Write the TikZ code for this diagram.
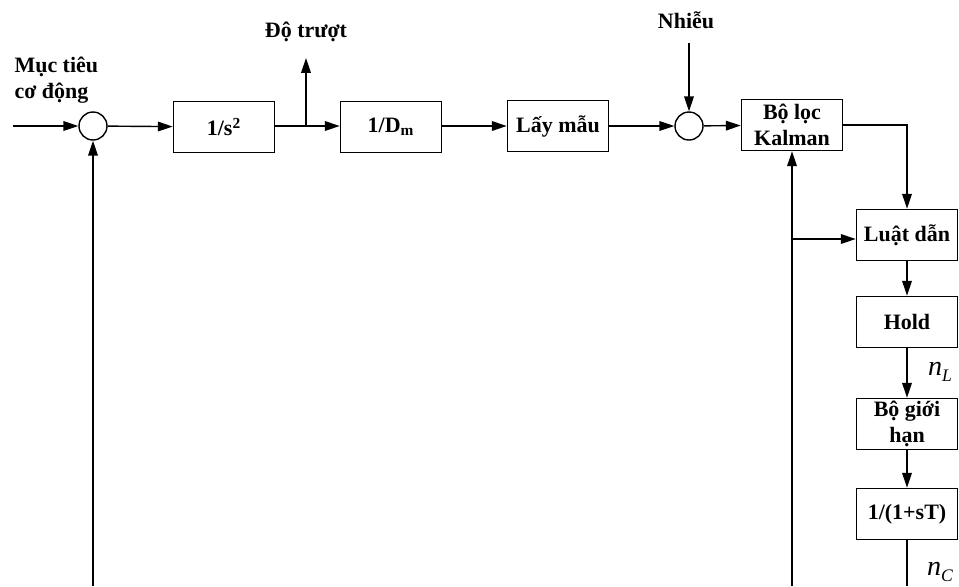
\documentclass[tikz,border=0pt]{standalone}
\usepackage{fontspec}
\setmainfont{Liberation Serif}
\usetikzlibrary{arrows.meta,positioning}

\tikzset{
  khoi/.style={draw, line width=0.9pt, minimum width=2.02cm, minimum height=1.02cm,
    inner sep=1pt, align=center, font=\bfseries\fontsize{12.5}{15}\selectfont},
  tong/.style={draw, circle, line width=0.8pt, minimum size=0.56cm, inner sep=0pt},
  mui/.style={-{Triangle[length=8.5pt,width=5.5pt]}},
  nhan/.style={font=\bfseries\fontsize{12.5}{15}\selectfont, align=left},
  kyhieu/.style={font=\fontsize{16}{16}\selectfont, inner sep=0pt},
}

\begin{document}
\begin{tikzpicture}[x=0.02cm, y=-0.02cm, line width=0.8pt]
    \useasboundingbox (0,0) rectangle (959,586);

    % nhánh thuận
    \node[tong] (s1) at (93,126) {};
    \node[khoi] (tp) at (224,127) {1/s\textsuperscript{2}};
    \node[khoi] (dm) at (391,127) {1/D\textsubscript{m}};
    \node[khoi] (lm) at (558,126) {Lấy mẫu};
    \node[tong] (s2) at (689,126) {};
    \node[khoi] (kal) at (792,125) {Bộ lọc\\Kalman};

    % nhánh dọc
    \node[khoi] (luat) at (907,235) {Luật dẫn};
    \node[khoi] (hold) at (907,322) {Hold};
    \node[khoi] (gh) at (907,424) {Bộ giới\\hạn};
    \node[khoi] (qt) at (907,514) {1/(1+sT)};

    % nhãn
    \node[nhan, anchor=west] (muctieu) at (8,80) {Mục tiêu\\cơ động};
    \node[nhan] (dotruot) at (306,32) {Độ trượt};
    \node[nhan] (nhieu) at (686,20) {Nhiễu};
    \node[kyhieu] (nl) at (940,372) {\textit{n}\raisebox{-0.5ex}{\fontsize{10}{10}\selectfont\textit{L}}};
    \node[kyhieu] (nc) at (940,572) {\textit{n}\raisebox{-0.5ex}{\fontsize{10}{10}\selectfont\textit{C}}};

    % các điểm
    \coordinate (vao) at (13,126);
    \coordinate (re) at (306,126);
    \coordinate (dt) at (306,58);
    \coordinate (nv) at (689,43);
    \coordinate (nh) at (792,239);
    \coordinate (d1) at (93,586);
    \coordinate (d2) at (792,586);
    \coordinate (ra) at (907,586);

    % đường nối
    \draw[mui] (vao) -- (s1);
    \draw[mui] (s1) -- (tp);
    \draw (tp.east |- re) -- (re);
    \draw[mui] (re) -- (dt);
    \draw[mui] (re) -- (re -| dm.west);
    \draw[mui] (dm.east |- lm) -- (lm);
    \draw[mui] (lm) -- (s2);
    \draw[mui] (nv) -- (s2);
    \draw[mui] (s2) -- (kal);
    \draw[mui] (kal.east) -| (luat.north);
    \draw[mui] (d2) -- (kal.south);
    \draw[mui] (nh) -- (nh -| luat.west);
    \foreach \a/\b in {luat/hold, hold/gh, gh/qt}
        \draw[mui] (\a) -- (\b);
    \draw (qt) -- (ra);
    \draw[mui] (d1) -- (s1);
\end{tikzpicture}
\end{document}
